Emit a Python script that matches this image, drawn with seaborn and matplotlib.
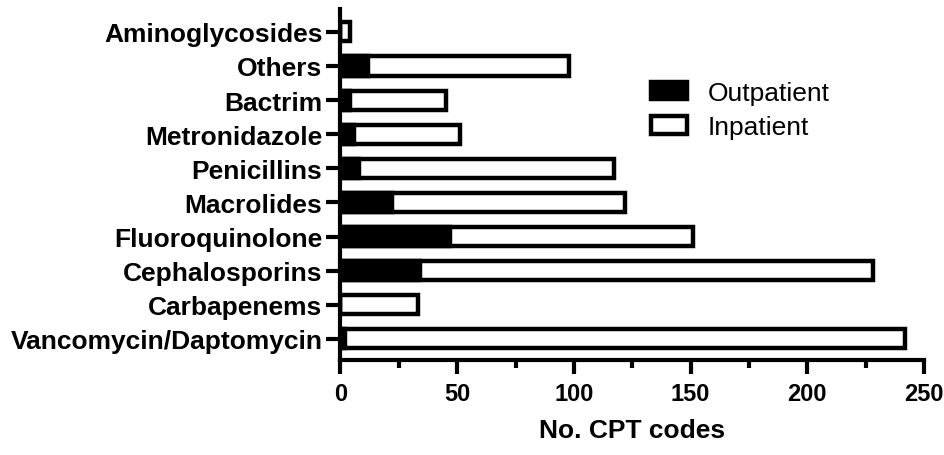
"""
CPT codes per antibiotic class, outpatient vs inpatient (horizontal stacked bars).
"""
import matplotlib
matplotlib.use("Agg")
import matplotlib.pyplot as plt
import matplotlib.patches as mpatches
import pandas as pd
import seaborn as sns

# dados (de cima para baixo)
categorias = [
    "Aminoglycosides", "Others", "Bactrim", "Metronidazole", "Penicillins",
    "Macrolides", "Fluoroquinolone", "Cephalosporins", "Carbapenems",
    "Vancomycin/Daptomycin",
]
outpatient = [0, 12, 4, 6, 8, 22, 47, 34, 0, 2]
inpatient = [4, 86, 41, 45, 109, 100, 104, 194, 33, 240]
xticks = [0, 50, 100, 150, 200, 250]

df = pd.DataFrame({"classe": categorias, "out": outpatient, "inp": inpatient})
df["total"] = df["out"] + df["inp"]

sns.set_style("ticks")
plt.rcParams["font.family"] = ["Liberation Sans", "DejaVu Sans"]
plt.rcParams["text.color"] = "black"

fig = plt.figure(figsize=(9.45, 4.56), dpi=100)
ax = fig.add_axes([0.3603, 0.2083, 0.6175, 0.7697])

lw = 3.2
# barra total (branca) por baixo, parte ambulatorial (preta) por cima
sns.barplot(data=df, x="total", y="classe", order=categorias, orient="h",
            color="white", edgecolor="black", linewidth=lw, width=0.56,
            saturation=1, ax=ax)
sns.barplot(data=df, x="out", y="classe", order=categorias, orient="h",
            color="black", edgecolor="black", linewidth=lw, width=0.56,
            saturation=1, ax=ax)

ax.set_xlim(0, 250)
ax.set_ylim(9.62, -0.67)
ax.set_xticks(xticks)
ax.set_xticks([25, 75, 125, 175, 225], minor=True)
ax.set_ylabel("")
ax.set_xlabel("No. CPT codes", fontsize=19, fontweight="bold", color="black",
              labelpad=9)

for lado in ["top", "right"]:
    ax.spines[lado].set_visible(False)
for lado in ["left", "bottom"]:
    ax.spines[lado].set_linewidth(3)
    ax.spines[lado].set_color("black")

ax.tick_params(axis="x", which="major", width=3, length=10, color="black",
               labelcolor="black", pad=6)
ax.tick_params(axis="y", which="major", width=3, length=10, color="black",
               labelcolor="black", pad=3)
ax.tick_params(axis="x", which="minor", width=3, length=5.5, color="black")
ax.tick_params(axis="y", which="minor", left=False)
for lbl in ax.get_xticklabels():
    lbl.set_fontsize(17)
    lbl.set_fontweight("bold")
for lbl in ax.get_yticklabels():
    lbl.set_fontsize(19)
    lbl.set_fontweight("bold")

handles = [
    mpatches.Patch(facecolor="black", edgecolor="black", linewidth=lw, label="Outpatient"),
    mpatches.Patch(facecolor="white", edgecolor="black", linewidth=lw, label="Inpatient"),
]
leg = fig.legend(handles=handles, loc="center left",
                 bbox_to_anchor=(651 / 945, 1 - 111 / 456), frameon=False,
                 fontsize=19, handlelength=1.35, handleheight=0.65,
                 handletextpad=0.8, labelspacing=0.4, borderpad=0, borderaxespad=0)
for t in leg.get_texts():
    t.set_color("black")

fig.savefig("out.png", dpi=100)
